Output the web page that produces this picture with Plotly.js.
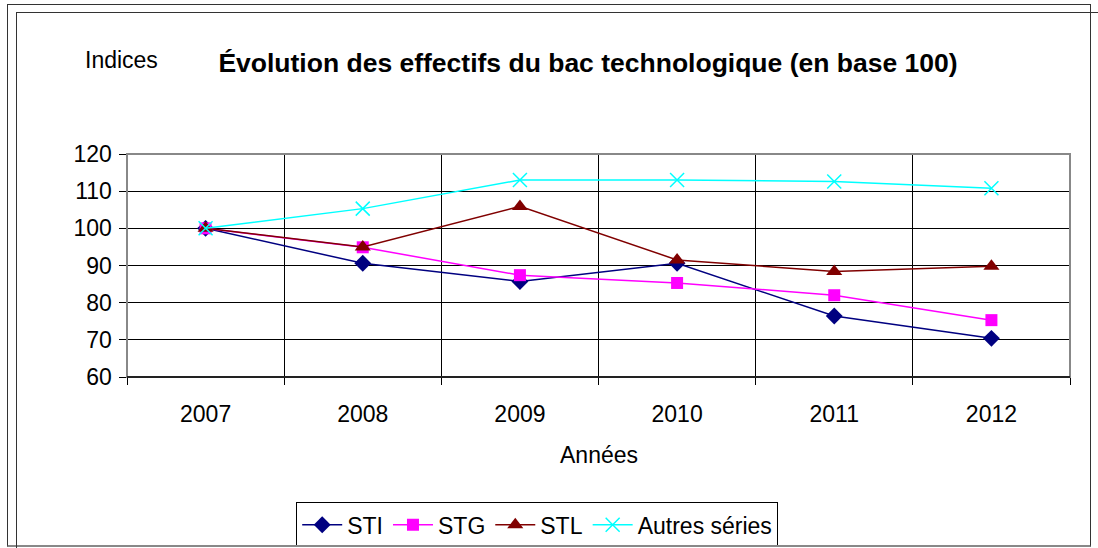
<!DOCTYPE html>
<html>
<head>
<meta charset="utf-8">
<script src="https://cdn.plot.ly/plotly-3.0.1.min.js"></script>
<style>
  html, body { margin: 0; padding: 0; background: #fff; }
  #wrap { position: relative; width: 1098px; height: 548px; overflow: hidden; }
  #chart { position: absolute; left: 0; top: 0; width: 1098px; height: 548px; }
  .frame { position: absolute; pointer-events: none; box-sizing: border-box; }
</style>
</head>
<body>
<div id="wrap">
  <div id="chart"></div>
  <div class="frame" style="left:7px; top:4px; width:1084px; height:543px; border:1.5px solid #333; border-bottom:2px solid #888;"></div>
  <div class="frame" style="left:16px; top:12px; width:1100px; height:560px; border:1.5px solid #333;"></div>
</div>
<script>
const years = ["2007", "2008", "2009", "2010", "2011", "2012"];
const sti = [100, 90.6, 85.7, 90.6, 76.4, 70.4];
const stg = [100, 94.9, 87.4, 85.3, 82.0, 75.3];
const stl = [100, 95.0, 105.9, 91.5, 88.4, 89.8];
const autres = [100, 105.3, 113.0, 113.0, 112.6, 110.8];

const seriesNames = ["STI", "STG", "STL", "Autres séries"];
const seriesData = [sti, stg, stl, autres];
const colors = ["#000080", "#FF00FF", "#800000", "#00FFFF"];
const symbols = ["diamond", "square", "triangle-up", "x-thin"];
const sizes = [13, 12, 14, 14];

const traces = seriesNames.map((name, i) => ({
  type: "scatter",
  mode: "lines+markers",
  name: name,
  x: years,
  y: seriesData[i],
  line: { color: colors[i], width: 1.5 },
  marker: {
    symbol: symbols[i],
    size: sizes[i],
    color: colors[i],
    line: { color: colors[i], width: symbols[i] === "x-thin" ? 1.5 : 0 }
  }
}));

const font = "Liberation Sans, Arial, sans-serif";
const fs = 23;

const layout = {
  width: 1098,
  height: 548,
  margin: { l: 127, r: 28, t: 154, b: 171, autoexpand: false },
  paper_bgcolor: "#fff",
  plot_bgcolor: "#fff",
  font: { family: font, size: fs, color: "#000" },
  title: {
    text: "<b>Évolution des effectifs du bac technologique (en base 100)</b>",
    font: { family: font, size: 26.5, color: "#000" },
    xref: "container", x: 0.5355, xanchor: "center",
    yref: "container", y: 0.886, yanchor: "middle"
  },
  xaxis: {
    type: "category",
    range: [-0.5, 5.5],
    tickson: "boundaries",
    showgrid: true,
    gridcolor: "#000",
    gridwidth: 1,
    ticks: "outside",
    ticklen: 7,
    tickcolor: "#000",
    showline: true,
    linecolor: "#000",
    linewidth: 1,
    ticklabelstandoff: 16,
    tickfont: { family: font, size: fs, color: "#000" },
    fixedrange: true
  },
  yaxis: {
    range: [60, 120],
    dtick: 10,
    tick0: 60,
    showgrid: true,
    gridcolor: "#000",
    gridwidth: 1,
    zeroline: false,
    ticks: "outside",
    ticklen: 7,
    tickcolor: "#000",
    showline: true,
    linecolor: "#555",
    linewidth: 1.5,
    ticklabelstandoff: 2,
    tickfont: { family: font, size: fs, color: "#000" },
    fixedrange: true
  },
  shapes: [
    {
      type: "rect", xref: "paper", yref: "paper",
      x0: 0, x1: 1, y0: 0, y1: 1,
      line: { color: "#888", width: 2 },
      layer: "above"
    },
    {
      type: "line", xref: "paper", yref: "paper",
      x0: 0, x1: 1, y0: 0, y1: 0,
      line: { color: "#000", width: 1.5 },
      layer: "above"
    }
  ],
  annotations: [
    {
      text: "Indices", xref: "paper", yref: "paper",
      x: -0.047, y: 1.42, xanchor: "left", yanchor: "middle",
      showarrow: false, font: { family: font, size: fs, color: "#000" }
    },
    {
      text: "Années", xref: "paper", yref: "paper",
      x: 0.5, y: -0.35, xanchor: "center", yanchor: "middle",
      showarrow: false, font: { family: font, size: fs, color: "#000" }
    }
  ],
  showlegend: true,
  legend: {
    orientation: "h",
    x: 0.435, xanchor: "center",
    y: -0.562, yanchor: "top",
    bordercolor: "#000",
    borderwidth: 1,
    bgcolor: "#fff",
    font: { family: font, size: fs, color: "#000" },
    itemwidth: 40,
    tracegroupgap: 0
  }
};

Plotly.newPlot("chart", traces, layout, { displayModeBar: false, staticPlot: true });
</script>
</body>
</html>
